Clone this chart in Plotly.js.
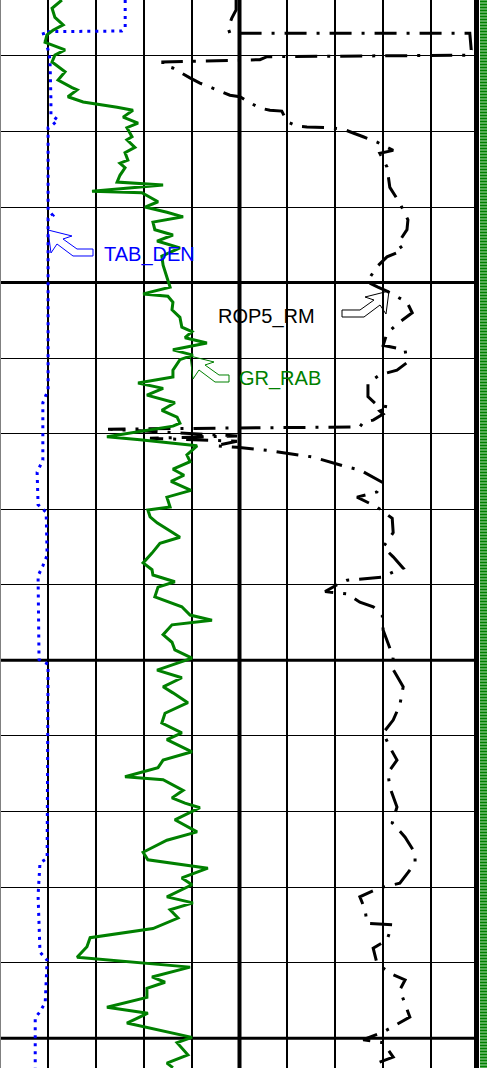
<!DOCTYPE html>
<html>
<head>
<meta charset="utf-8">
<script src="https://cdn.plot.ly/plotly-3.0.1.min.js"></script>
<style>
html,body{margin:0;padding:0;background:#ffffff;overflow:hidden}
#chart{width:487px;height:1068px}
</style>
</head>
<body>
<div id="chart"></div>
<script>
// ---------------- data (depth in ft) ----------------
const curveNames = ['GR_RAB', 'TAB_DEN', 'ROP5_RM'];

const grDepth = [
  4812.6,4813.7,4814.9,4815.9,4816.6,4817.2,4818.2,4819.2,4819.9,4820.8,
  4822.1,4823.2,4824.2,4824.5,4825.4,4826.1,4826.8,4827.2,4828.1,4828.9,
  4829.5,4830.7,4831.1,4832.1,4832.8,4833.8,4834.2,4834.8,4835.8,4836.7,
  4837.1,4837.9,4838.1,4839.3,4840.0,4840.7,4841.3,4842.0,4843.0,4843.7,
  4844.5,4845.4,4846.5,4847.7,4849.3,4850.6,4851.5,4851.8,4852.6,4853.6,
  4854.6,4855.9,4856.5,4857.3,4858.0,4858.9,4859.6,4860.2,4861.6,4862.5,
  4863.3,4864.0,4864.9,4865.9,4866.9,4867.8,4868.6,4869.0,4870.4,4870.8,
  4871.6,4872.8,4873.7,4874.7,4875.5,4876.3,4877.5,4878.4,4879.7,4880.1,
  4881.0,4881.8,4883.1,4883.7,4884.5,4885.8,4887.1,4888.0,4888.7,4889.6,
  4890.3,4891.6,4892.9,4894.0,4894.7,4895.3,4896.6,4897.6,4898.6,4899.7,
  4901.3,4902.3,4903.5,4904.3,4905.6,4907.0,4908.3,4909.6,4910.5,4912.1,
  4913.2,4914.2,4915.4,4915.8,4917.2,4918.2,4918.9,4919.5,4921.1,4922.7,
  4923.8,4925.4,4926.4,4927.5,4928.8,4929.7,4931.3,4932.1,4933.0,4934.1,
  4935.5,4936.7,4937.9,4939.3,4940.6,4941.9,4942.6,4943.4,4944.6,4945.9,
  4946.7,4948.0,4949.9,4950.6,4952.2,4953.3,4953.9
];
const grValue = [
  19.5,16.4,17.3,19.9,16.7,14.8,14.2,20.5,17.3,16.4,
  20.5,18.3,22.7,24.3,21.4,26.2,36.9,41.9,38.8,43.5,
  40.0,41.6,40.0,42.5,39.4,40.3,37.8,39.4,37.8,36.9,
  51.4,29.0,44.7,49.8,45.7,52.6,57.7,48.2,48.8,54.5,
  49.5,56.7,51.0,51.4,52.6,53.6,45.1,52.9,54.5,54.2,
  56.7,57.3,60.5,58.3,65.2,54.5,60.8,56.7,54.5,54.5,
  43.5,51.4,46.3,55.1,51.0,55.8,56.7,54.5,33.7,44.1,
  62.1,58.9,59.9,54.5,58.0,53.9,60.2,52.6,53.6,46.6,
  47.3,49.5,54.5,56.7,50.4,47.9,45.1,47.9,48.2,55.1,
  49.8,48.8,57.3,59.9,66.8,54.2,51.4,54.2,55.1,60.5,
  49.5,57.3,51.4,54.5,59.2,52.0,51.0,57.3,52.6,60.5,
  51.4,49.8,39.4,51.4,57.7,54.2,58.3,63.0,55.1,62.1,
  52.6,45.1,46.6,65.5,57.3,60.5,52.6,60.8,53.6,56.1,
  48.2,28.4,27.4,24.3,59.9,47.9,52.0,46.3,46.3,33.7,
  46.6,40.0,60.5,55.8,59.2,52.6,54.5
];

const denDepth = [
  4812.6,4816.3,4816.7,4816.8,4817.9,4819.2,4820.5,4825.8,4827.8,4828.5,
  4829.1,4829.5,4840.4,4841.1,4841.5,4864.2,4865.9,4873.5,4875.1,4879.4,
  4880.4,4886.1,4887.5,4888.8,4899.9,4900.5,4926.2,4926.8,4931.1,4938.6,
  4939.7,4945.3,4946.5,4947.3,4953.9
];
const denValue = [
  2.213,2.213,2.206,2.040,2.045,2.051,2.055,2.057,2.057,2.072,
  2.061,2.051,2.051,2.061,2.051,2.051,2.040,2.040,2.028,2.030,
  2.047,2.049,2.040,2.030,2.032,2.051,2.049,2.034,2.030,2.034,
  2.049,2.045,2.034,2.024,2.024
];

const ropDepth = [
  4812.6,4813.9,4815.0,4816.3,4817.0,4817.0,4819.2,4819.9,4820.1,4820.5,
  4820.8,4821.2,4821.6,4822.9,4823.6,4824.5,4825.2,4825.4,4826.2,4826.9,
  4827.2,4827.3,4828.7,4829.3,4829.4,4829.5,4829.7,4830.2,4830.7,4831.4,
  4832.5,4832.9,4834.7,4837.4,4839.5,4841.7,4843.0,4844.8,4845.7,4846.6,
  4847.9,4849.9,4850.6,4851.2,4852.6,4854.0,4855.2,4856.7,4858.3,4858.9,
  4860.6,4861.6,4862.2,4863.3,4865.1,4866.2,4866.5,4867.0,4867.4,4868.2,
  4868.5,4869.1,4869.4,4870.3,4870.6,4871.0,4871.6,4871.8,4872.2,4873.1,
  4874.4,4874.8,4876.5,4877.7,4878.4,4879.7,4881.2,4883.1,4885.0,4886.3,
  4887.8,4888.3,4889.0,4889.4,4890.0,4890.9,4891.2,4892.3,4892.9,4894.0,
  4896.0,4897.7,4899.6,4901.0,4903.5,4905.9,4907.9,4909.6,4911.5,4913.2,
  4914.9,4916.8,4919.4,4921.5,4923.4,4925.5,4926.8,4928.1,4929.5,4930.1,
  4931.3,4933.0,4934.8,4935.0,4937.0,4938.1,4940.1,4941.4,4942.3,4943.6,
  4947.2,4949.2,4950.2,4950.6,4952.5,4953.3,4953.9
];
const ropValue = [
  49.6,49.6,48.7,47.9,48.3,98.7,99.0,98.7,56.1,54.6,
  34.2,34.2,36.3,39.9,42.0,45.6,48.3,50.4,52.5,54.6,
  56.7,59.2,60.3,62.4,64.5,69.3,72.1,74.2,76.3,79.2,
  82.6,79.8,81.3,81.9,84.0,85.7,85.5,83.6,84.7,81.3,
  79.2,77.1,79.4,81.5,85.5,86.6,84.0,81.3,80.5,85.1,
  85.5,83.4,79.8,77.3,77.3,79.2,81.9,79.8,80.5,78.4,
  76.3,75.6,22.7,49.8,31.5,49.8,45.2,49.8,56.1,65.8,
  72.9,75.6,80.5,79.2,75.0,79.2,82.4,82.6,80.5,82.6,
  84.7,82.6,80.3,72.9,70.8,68.3,72.9,75.6,78.4,80.3,
  80.5,81.5,82.6,82.4,84.7,84.0,82.6,80.5,81.9,83.4,
  81.5,81.9,83.4,82.4,85.1,87.2,87.2,85.7,84.0,79.8,
  75.6,76.7,77.1,82.4,81.3,78.4,79.2,81.9,85.1,84.0,
  86.1,80.5,76.3,80.5,82.6,79.2,79.8
];

// ---------------- scales / layout constants ----------------
const W = 487, H = 1068;
const TRACK_PX = 479;             // track width in px
const DEPTH_TOP = 4812.6, DEPTH_BOTTOM = 4953.95;
const GR_RANGE = [0, 150.95];      // gAPI
const DEN_RANGE = [1.95, 2.9563];  // g/cc
const ROP_RANGE = [0, 100.63];     // ft/hr
const HEAVY_DEPTHS = [4850, 4900, 4950];

const X = px => px / W;
const Y = py => 1 - py / H;

function arrowPath(tipX, tipY, dir, len) {
  const off = [[0,0],[24,6],[15,9],[29,19],[len,19],[len,26],[25,26],[9,14],[3,23]];
  return off.map((p, i) => (i ? 'L' : 'M') + X(tipX + dir * p[0]).toFixed(5) + ',' + Y(tipY + p[1]).toFixed(5)).join(' ') + ' Z';
}

const FONT = 'Liberation Sans, Arial, sans-serif';

const traces = [
  { // lithology / quality stripe at right edge
    type: 'bar', x: [0], y: [DEPTH_BOTTOM - DEPTH_TOP], base: [DEPTH_TOP], width: [1],
    xaxis: 'x5', yaxis: 'y', hoverinfo: 'skip',
    marker: { color: '#2e9a2e', line: { width: 0 },
      pattern: { shape: '-', fgcolor: '#008000', bgcolor: '#8fcb8f', size: 3, solidity: 0.6 } }
  },
  {
    type: 'scatter', mode: 'lines', name: curveNames[2], x: ropValue, y: ropDepth,
    xaxis: 'x2', yaxis: 'y',
    line: { color: '#000000', width: 3, dash: '22px,10px,3px,10px', simplify: false }
  },
  {
    type: 'scatter', mode: 'lines', name: curveNames[1], x: denValue, y: denDepth,
    xaxis: 'x3', yaxis: 'y',
    line: { color: '#0000ff', width: 3, dash: '3px,5px', simplify: false }
  },
  {
    type: 'scatter', mode: 'lines', name: curveNames[0], x: grValue, y: grDepth,
    xaxis: 'x4', yaxis: 'y',
    line: { color: '#008000', width: 3, simplify: false }
  }
];

const shapes = [];
HEAVY_DEPTHS.forEach(d => shapes.push({
  type: 'line', layer: 'below', xref: 'paper', yref: 'y',
  x0: 0, x1: X(TRACK_PX), y0: d, y1: d, line: { color: '#000', width: 3 }
}));
shapes.push({ type: 'line', layer: 'below', xref: 'x', yref: 'paper', x0: 5, x1: 5, y0: 0, y1: 1, line: { color: '#000', width: 4 } });
shapes.push({ type: 'line', layer: 'above', xref: 'paper', yref: 'paper', x0: X(476.5), x1: X(476.5), y0: 0, y1: 1, line: { color: '#000', width: 5 } });
shapes.push({ type: 'line', layer: 'above', xref: 'paper', yref: 'paper', x0: X(0.5), x1: X(0.5), y0: 0, y1: 1, line: { color: '#808080', width: 1 } });
shapes.push({ type: 'path', layer: 'above', xref: 'paper', yref: 'paper', path: arrowPath(48, 230, 1, 45), line: { color: '#0000ff', width: 1 } });
shapes.push({ type: 'path', layer: 'above', xref: 'paper', yref: 'paper', path: arrowPath(190, 356, 1, 39), line: { color: '#008000', width: 1 } });
shapes.push({ type: 'path', layer: 'above', xref: 'paper', yref: 'paper', path: arrowPath(389, 291, -1, 47), line: { color: '#000000', width: 1 } });

const annotations = [
  { text: curveNames[1], x: X(102), y: Y(254), color: '#0000ff' },
  { text: curveNames[0], x: X(237), y: Y(378), color: '#008000' },
  { text: curveNames[2], x: X(216), y: Y(316), color: '#000000' }
].map(a => ({
  text: a.text, xref: 'paper', yref: 'paper', x: a.x, y: a.y,
  xanchor: 'left', yanchor: 'middle', showarrow: false,
  font: { family: FONT, size: 20, color: a.color }
}));

const layout = {
  width: W, height: H,
  margin: { l: 0, r: 0, t: 0, b: 0, pad: 0 },
  paper_bgcolor: '#ffffff', plot_bgcolor: '#ffffff',
  showlegend: false, bargap: 0,
  font: { family: FONT },
  xaxis: { domain: [0, X(TRACK_PX)], range: [0, 10], dtick: 1, tick0: 0, showgrid: true,
    gridcolor: '#000000', gridwidth: 2, showticklabels: false, ticks: '', zeroline: false, showline: false },
  xaxis2: { overlaying: 'x', anchor: 'y', range: ROP_RANGE, visible: false },
  xaxis3: { overlaying: 'x', anchor: 'y', range: DEN_RANGE, visible: false },
  xaxis4: { overlaying: 'x', anchor: 'y', range: GR_RANGE, visible: false },
  xaxis5: { domain: [X(479.5), 1], anchor: 'y', range: [-0.5, 0.5], visible: false },
  yaxis: { range: [DEPTH_BOTTOM, DEPTH_TOP], dtick: 10, tick0: 4800, showgrid: true,
    gridcolor: '#000000', gridwidth: 1, showticklabels: false, ticks: '', zeroline: false, showline: false },
  shapes: shapes,
  annotations: annotations
};

Plotly.newPlot('chart', traces, layout, { staticPlot: true, displayModeBar: false });
</script>
</body>
</html>
